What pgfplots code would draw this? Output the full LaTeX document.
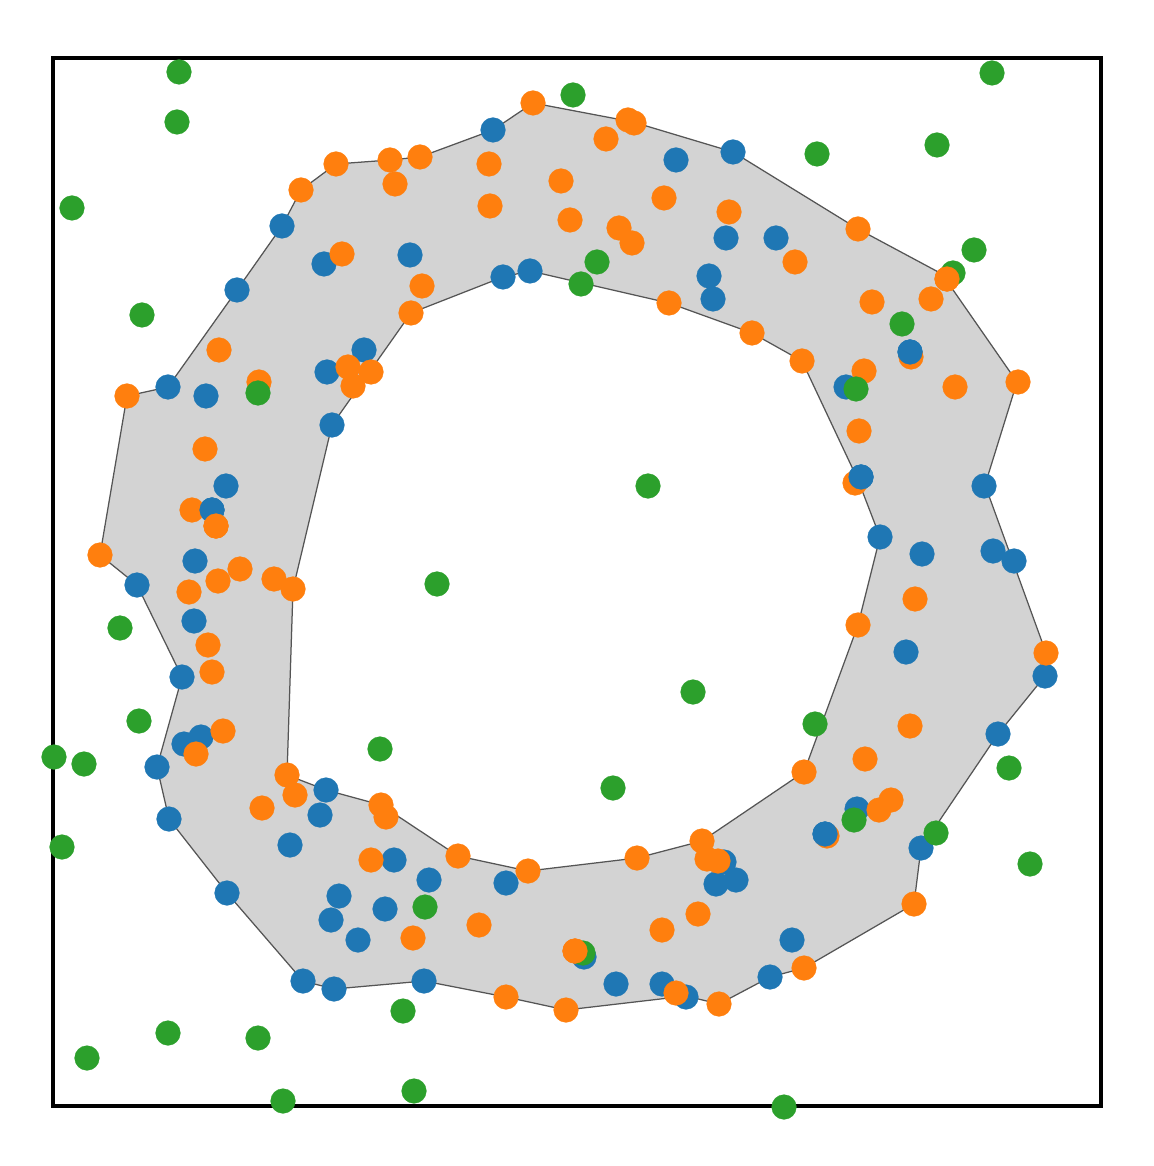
\documentclass[border=0pt]{standalone}
\usepackage{pgfplots}
\usepackage{pgfplotstable}
\pgfplotsset{compat=1.18}
\definecolor{tblue}{HTML}{1F77B4}
\definecolor{torange}{HTML}{FF7F0E}
\definecolor{tgreen}{HTML}{2CA02C}
\definecolor{band}{HTML}{D3D3D3}
\definecolor{edge}{HTML}{555555}

\pgfplotstableread{
x y
493 130
676 160
733 152
282 226
324 264
410 255
237 290
503 277
530 271
709 276
713 299
726 238
776 238
364 350
327 372
168 387
206 396
332 425
910 352
846 387
861 477
984 486
226 486
212 510
195 561
137 585
194 621
880 537
922 554
993 551
1014 561
906 652
1045 676
182 677
184 744
201 737
157 767
998 734
326 790
320 815
169 819
290 845
394 860
429 880
506 883
339 896
331 920
385 909
358 940
227 893
857 809
825 834
921 848
724 862
716 884
736 880
584 957
616 984
662 984
686 997
770 977
792 940
424 981
334 989
303 981
}\bluedata

\pgfplotstableread{
x y
336 164
301 190
390 160
395 184
420 157
342 254
219 350
259 382
127 396
348 367
371 372
353 386
422 286
411 313
533 103
628 120
634 123
606 139
489 164
490 206
561 181
570 220
619 228
632 243
664 198
729 212
669 303
752 333
858 229
795 262
872 302
931 299
947 279
911 357
864 371
955 387
1018 382
802 361
859 431
855 483
915 599
858 625
1046 653
910 726
865 759
804 772
205 449
192 510
216 526
100 555
218 581
189 592
240 569
274 579
293 589
208 645
212 672
223 731
196 754
287 775
295 795
262 808
381 805
386 817
371 860
413 938
458 856
528 871
637 858
702 841
707 859
718 861
698 914
662 930
479 925
575 951
506 997
566 1010
676 993
719 1004
891 800
879 810
827 836
914 904
804 968
}\orangedata

\pgfplotstableread{
x y
179 72
177 122
72 208
142 315
258 393
573 95
597 262
581 284
817 154
937 145
992 73
974 250
953 273
902 324
856 389
648 486
437 584
693 692
815 724
1009 768
120 628
139 721
54 757
84 764
380 749
62 847
425 907
403 1011
168 1033
258 1038
87 1058
283 1101
414 1091
613 788
583 953
784 1107
854 820
936 833
1030 864
}\greendata

\pgfplotstableread{
x y
910 352
861 477
825 834
212 510
}\bluetop

\pgfplotstableread{
x y
216 526
947 279
575 951
}\orangetop

\begin{document}
\begin{tikzpicture}
\begin{axis}[
  scale only axis,
  width=377.28pt, height=377.28pt,
  xmin=53, xmax=1101, ymin=58, ymax=1106,
  y dir=reverse,
  xtick=\empty, ytick=\empty,
  axis line style={line width=1.6pt, black},
  clip=false,
  dots/.style={only marks, mark=*, mark size=4.45pt, color=#1, mark options={draw=#1, fill=#1, line width=0.1pt}},
]
% outer band
\addplot[fill=band, draw=edge, line width=0.45pt] coordinates {
(533,103) (633,122) (733,152) (858,229) (942,274) (1017,382) (985,485)
(1045,650) (1045,676) (998,734) (921,848) (914,904) (804,968) (770,977)
(719,1004) (686,996) (566,1010) (506,997) (424,981) (334,989) (303,981)
(227,893) (169,819) (157,767) (182,677) (137,585) (100,555) (127,396)
(168,387) (237,290) (282,226) (301,190) (336,164) (390,160) (420,157)
(493,130) (533,103)
};
% inner hole
\addplot[fill=white, draw=edge, line width=0.45pt] coordinates {
(411,313) (503,277) (530,271) (669,303) (752,333) (802,361) (858,480)
(880,537) (858,625) (804,772) (702,841) (637,858) (528,871) (458,856)
(381,805) (326,790) (287,775) (293,589) (332,425) (411,313)
};
\addplot[dots=tblue] table {\bluedata};
\addplot[dots=torange] table {\orangedata};
\addplot[dots=tgreen] table {\greendata};
\addplot[dots=tblue] table {\bluetop};
\addplot[dots=torange] table {\orangetop};
\end{axis}
\path (current axis.south west) ++(-19.08pt,-21.6pt) rectangle ++(415.08pt,419.76pt);
\end{tikzpicture}
\end{document}
